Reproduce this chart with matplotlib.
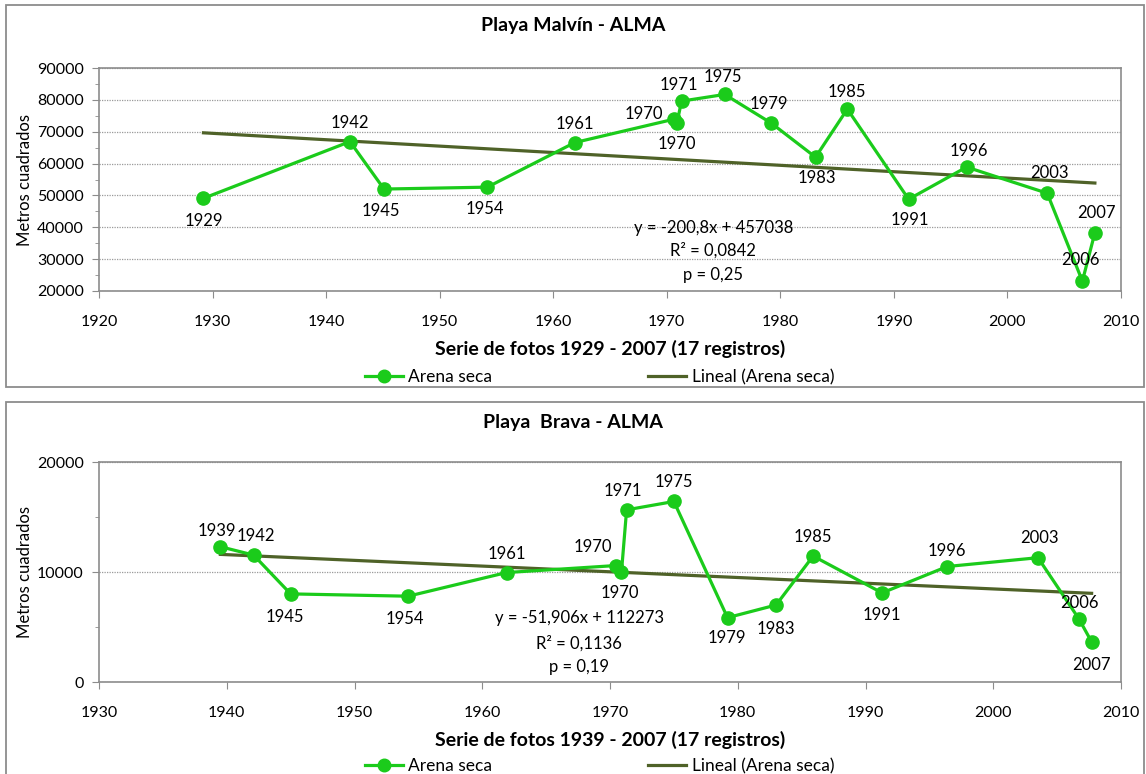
import numpy as np
import matplotlib
matplotlib.use("Agg")
import matplotlib.pyplot as plt
from matplotlib.patches import Rectangle
from matplotlib.ticker import MultipleLocator

plt.rcParams['font.family'] = ['Lato', 'DejaVu Sans']

# --- Playa Malvin ---
malvin_years = [1929.2, 1942.1, 1945.1, 1954.2, 1961.9, 1970.6, 1970.9, 1971.3, 1975.1,
                1979.2, 1983.1, 1985.9, 1991.3, 1996.4, 2003.5, 2006.6, 2007.7]
malvin_area = [49100, 66900, 52000, 52600, 66600, 73900, 72800, 79600, 81700,
               72700, 62000, 77100, 48800, 58900, 50700, 23100, 38300]
malvin_labels = ["1929", "1942", "1945", "1954", "1961", "1970", "1970", "1971", "1975",
                 "1979", "1983", "1985", "1991", "1996", "2003", "2006", "2007"]
malvin_fit = (-200.8, 457038)
malvin_eq = ["y = -200,8x + 457038", "R² = 0,0842", "p = 0,25"]

# --- Playa Brava ---
brava_years = [1939.5, 1942.1, 1945.0, 1954.2, 1961.9, 1970.5, 1970.9, 1971.3, 1975.0,
               1979.2, 1983.0, 1985.9, 1991.3, 1996.4, 2003.5, 2006.7, 2007.7]
brava_area = [12300, 11540, 8010, 7800, 9950, 10590, 10020, 15650, 16410,
              5850, 7000, 11450, 8100, 10500, 11300, 5750, 3650]
brava_labels = ["1939", "1942", "1945", "1954", "1961", "1970", "1970", "1971", "1975",
                "1979", "1983", "1985", "1991", "1996", "2003", "2006", "2007"]
brava_fit = (-51.906, 112273)
brava_eq = ["y = -51,906x + 112273", "R² = 0,1136", "p = 0,19"]

# label offsets in pixels (dx, dy), dy positive = up
malvin_off = [(0, -23), (0, 19), (-3, -22), (-3, -22), (0, 19), (-30, 5), (0, -21), (-3, 16),
              (-2, 17), (-2, 19), (1, -21), (0, 17), (1, -21), (2, 16), (2, 20), (-2, 21), (2, 20)]
brava_off = [(-4, 16), (2, 19), (-6, -23), (-3, -23), (0, 19), (-24, 19), (-2, -21), (-4, 19),
             (0, 19), (-1, -20), (0, -24), (0, 19), (0, -22), (0, 16), (1, 20), (1, 16), (0, -23)]

GREEN = '#1BCB1B'
OLIVE = '#4F6228'
GRAY = '#8C8C8C'

fig = plt.figure(figsize=(11.46, 7.74), dpi=100)
W, H = 1146, 774

# panel frames
for y0, y1 in [(5, 387), (402, 790)]:
    fig.patches.append(Rectangle((6 / W, 1 - y1 / H), 1138 / W, (y1 - y0) / H,
                                 transform=fig.transFigure, fill=False,
                                 edgecolor=GRAY, lw=1.3))


def draw(ax, years, area, labels, offs, fit, eq, eq_pos, xlim, ylim, title, xlabel, title_y, leg_y):
    ax.plot(years, area, color=GREEN, lw=2.3, marker='o', ms=9.5, zorder=3, label='Arena seca')
    tx = np.array([years[0], years[-1]])
    ax.plot(tx, fit[0] * tx + fit[1], color=OLIVE, lw=2.3, zorder=2, label='Lineal (Arena seca)')
    for x, y, lab, (dx, dy) in zip(years, area, labels, offs):
        ax.annotate(lab, (x, y), xytext=(dx, dy), textcoords='offset pixels',
                    ha='center', va='center', fontsize=12, zorder=4)
    for i, line in enumerate(eq):
        ax.text(eq_pos[0], eq_pos[1][i], line, ha='center', va='center', fontsize=12)
    ax.set_xlim(*xlim)
    ax.set_ylim(*ylim)
    ax.xaxis.set_major_locator(MultipleLocator(10))
    ax.yaxis.set_major_locator(MultipleLocator(10000))
    ax.yaxis.set_minor_locator(MultipleLocator(5000))
    ax.grid(axis='y', which='major', color='#9A9A9A', ls=(0, (1, 1)), lw=0.9)
    ax.set_axisbelow(True)
    for s in ax.spines.values():
        s.set_color(GRAY)
        s.set_linewidth(1.2)
    ax.tick_params(which='both', direction='out', color=GRAY, labelsize=11.5, pad=6)
    ax.tick_params(axis='y', which='major', length=5)
    ax.tick_params(axis='y', which='minor', length=3)
    ax.tick_params(axis='x', length=5, pad=12)
    ax.set_ylabel('Metros cuadrados', fontsize=12, labelpad=3)
    ax.set_xlabel(xlabel, fontsize=14, fontweight='bold', labelpad=8)
    fig.text(0.5, 1 - title_y / H, title, ha='center', va='center', fontsize=14, fontweight='bold')
    ax.legend(loc='center', bbox_to_anchor=(0.523, 1 - leg_y / H), bbox_transform=fig.transFigure,
              ncol=2, frameon=False, fontsize=12.5, handlelength=2.2, columnspacing=9,
              handletextpad=0.3, markerscale=0.95)


ax1 = fig.add_axes([99 / W, 1 - 291 / H, 1022 / W, 223 / H])
draw(ax1, malvin_years, malvin_area, malvin_labels, malvin_off, malvin_fit, malvin_eq,
     (1974.1, [39900, 32700, 25000]), (1920, 2010), (20000, 90000),
     'Playa Malvín - ALMA', 'Serie de fotos 1929 - 2007 (17 registros)', 26, 377)

ax2 = fig.add_axes([99 / W, 1 - 682 / H, 1022 / W, 220 / H])
draw(ax2, brava_years, brava_area, brava_labels, brava_off, brava_fit, brava_eq,
     (1967.6, [5820, 3530, 1340]), (1930, 2010), (0, 20000),
     'Playa  Brava - ALMA', 'Serie de fotos 1939 - 2007 (17 registros)', 422, 766)

fig.savefig('out.png', dpi=100)
